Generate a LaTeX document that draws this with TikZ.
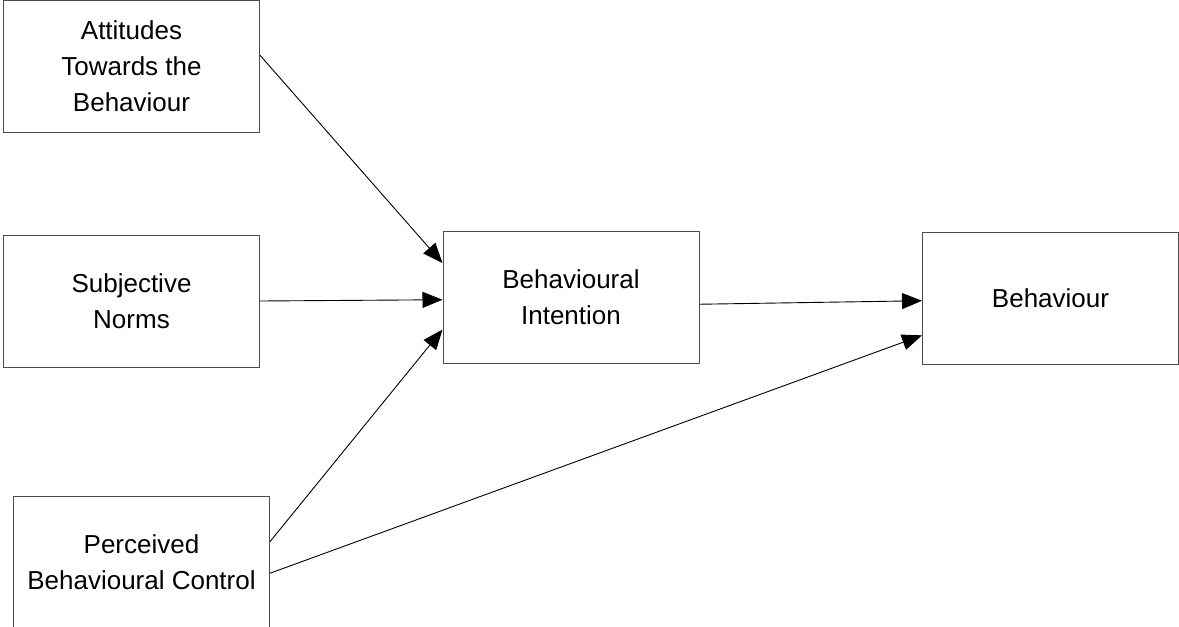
\documentclass[tikz,border=0pt]{standalone}
\usepackage{fontspec}
\setmainfont{Liberation Sans}
\usetikzlibrary{arrows.meta}

\begin{document}
\begin{tikzpicture}
	[->,>={Triangle[length=20pt,width=16pt]},x=1pt,y=-1pt,line width=0.9pt,
		box node/.style={rectangle,draw=black!70,line width=1pt,minimum width=256pt,minimum height=132pt,inner sep=0pt,align=center,font=\fontsize{26}{36}\selectfont}]

    \useasboundingbox (0,0) rectangle (1179,627);

    \node[box node] (att) at (131.5,66.5) {Attitudes\\Towards the\\Behaviour};
    \node[box node] (sn) at (131.5,301) {Subjective\\Norms};
    \node[box node] (pbc) at (141.5,562) {Perceived\\Behavioural Control};
    \node[box node] (bi) at (571,297.5) {Behavioural\\Intention};
    \node[box node] (beh) at (1050.5,298.5) {Behaviour};

	% \node[box node] (x) at (600,500) {};

	\path[]
    (att.5)   edge node {} (bi.165)
    (sn.east) edge node {} (bi.181)
    (pbc.9)   edge node {} (bi.194)
    (pbc.-5)  edge node {} (beh.196)
    (bi.-3)   edge node {} (beh.181)
    ;

\end{tikzpicture}
\end{document}
